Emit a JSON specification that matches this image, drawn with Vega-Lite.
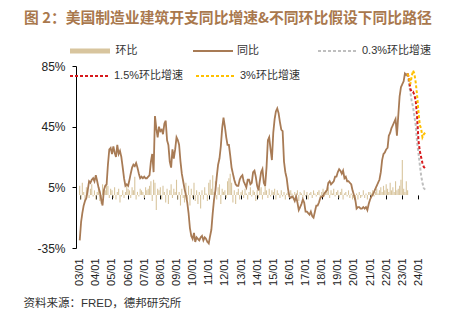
{
  "$schema": "https://vega.github.io/schema/vega-lite/v6.json",
  "padding": {"left": 23, "top": 10, "right": 0, "bottom": 0},
  "background": "white",
  "config": {"view": {"stroke": null}, "font": "Liberation Sans, Noto Sans CJK SC", "legend": {"orient": "none", "direction": "horizontal", "padding": 0, "symbolType": "stroke", "symbolSize": 1600, "symbolOpacity": 1, "labelFontSize": 11, "labelFont": "Liberation Sans, Noto Sans CJK SC", "labelColor": "#333", "labelOffset": 3}},
  "title": {"text": "图 2：美国制造业建筑开支同比增速&不同环比假设下同比路径", "anchor": "start", "font": "Noto Sans CJK SC", "fontSize": 14.8, "fontWeight": "bold", "color": "#A9784D", "offset": 3, "dx": 1},
  "width": 412,
  "height": 182,
  "resolve": {"axis": {"x": "independent"}},
  "datasets": {
    "m": [
      {"d":"2003/01/01","yoy":-30,"mom":6},{"d":"2003/02/01","yoy":-18,"mom":-3},{"d":"2003/03/01","yoy":-12,"mom":8},{"d":"2003/04/01","yoy":-7,"mom":2},{"d":"2003/05/01","yoy":-4,"mom":-4},{"d":"2003/06/01","yoy":-2,"mom":5},{"d":"2003/07/01","yoy":3,"mom":3},{"d":"2003/08/01","yoy":9,"mom":-2},{"d":"2003/09/01","yoy":8,"mom":4},{"d":"2003/10/01","yoy":10,"mom":7},{"d":"2003/11/01","yoy":11,"mom":-1},{"d":"2003/12/01","yoy":9,"mom":3},
      {"d":"2004/01/01","yoy":13,"mom":-3},{"d":"2004/02/01","yoy":9,"mom":2},{"d":"2004/03/01","yoy":5,"mom":5},{"d":"2004/04/01","yoy":2,"mom":-4},{"d":"2004/05/01","yoy":-3,"mom":-6},{"d":"2004/06/01","yoy":-7,"mom":7},{"d":"2004/07/01","yoy":3,"mom":4},{"d":"2004/08/01","yoy":6,"mom":3},{"d":"2004/09/01","yoy":7,"mom":9},{"d":"2004/10/01","yoy":20,"mom":6},{"d":"2004/11/01","yoy":30,"mom":-2},{"d":"2004/12/01","yoy":31,"mom":4},
      {"d":"2005/01/01","yoy":27,"mom":3},{"d":"2005/02/01","yoy":32,"mom":-2},{"d":"2005/03/01","yoy":28,"mom":5},{"d":"2005/04/01","yoy":25,"mom":-3},{"d":"2005/05/01","yoy":33,"mom":2},{"d":"2005/06/01","yoy":27,"mom":4},{"d":"2005/07/01","yoy":29,"mom":-5},{"d":"2005/08/01","yoy":25,"mom":-1},{"d":"2005/09/01","yoy":18,"mom":3},{"d":"2005/10/01","yoy":11,"mom":-2},{"d":"2005/11/01","yoy":6,"mom":2},{"d":"2005/12/01","yoy":7,"mom":6},
      {"d":"2006/01/01","yoy":6,"mom":4},{"d":"2006/02/01","yoy":10,"mom":3},{"d":"2006/03/01","yoy":14,"mom":-2},{"d":"2006/04/01","yoy":18,"mom":5},{"d":"2006/05/01","yoy":20,"mom":3},{"d":"2006/06/01","yoy":19,"mom":12},{"d":"2006/07/01","yoy":21,"mom":-3},{"d":"2006/08/01","yoy":18,"mom":2},{"d":"2006/09/01","yoy":14,"mom":-1},{"d":"2006/10/01","yoy":11,"mom":4},{"d":"2006/11/01","yoy":12,"mom":3},{"d":"2006/12/01","yoy":11,"mom":2},
      {"d":"2007/01/01","yoy":12,"mom":-2},{"d":"2007/02/01","yoy":11,"mom":5},{"d":"2007/03/01","yoy":11,"mom":3},{"d":"2007/04/01","yoy":12,"mom":4},{"d":"2007/05/01","yoy":13,"mom":6},{"d":"2007/06/01","yoy":22,"mom":9},{"d":"2007/07/01","yoy":27,"mom":-4},{"d":"2007/08/01","yoy":15,"mom":10},{"d":"2007/09/01","yoy":52,"mom":8},{"d":"2007/10/01","yoy":44,"mom":-10},{"d":"2007/11/01","yoy":38,"mom":4},{"d":"2007/12/01","yoy":45,"mom":3},
      {"d":"2008/01/01","yoy":42,"mom":5},{"d":"2008/02/01","yoy":43,"mom":-3},{"d":"2008/03/01","yoy":40,"mom":6},{"d":"2008/04/01","yoy":47,"mom":2},{"d":"2008/05/01","yoy":49,"mom":-5},{"d":"2008/06/01","yoy":36,"mom":4},{"d":"2008/07/01","yoy":33,"mom":-6},{"d":"2008/08/01","yoy":22,"mom":3},{"d":"2008/09/01","yoy":18,"mom":7},{"d":"2008/10/01","yoy":30,"mom":-2},{"d":"2008/11/01","yoy":24,"mom":4},{"d":"2008/12/01","yoy":30,"mom":2},
      {"d":"2009/01/01","yoy":38,"mom":10},{"d":"2009/02/01","yoy":36,"mom":-3},{"d":"2009/03/01","yoy":33,"mom":2},{"d":"2009/04/01","yoy":22,"mom":-7},{"d":"2009/05/01","yoy":14,"mom":4},{"d":"2009/06/01","yoy":9,"mom":-2},{"d":"2009/07/01","yoy":4,"mom":-5},{"d":"2009/08/01","yoy":0,"mom":8},{"d":"2009/09/01","yoy":-5,"mom":-3},{"d":"2009/10/01","yoy":-12,"mom":6},{"d":"2009/11/01","yoy":-22,"mom":-7},{"d":"2009/12/01","yoy":-27,"mom":4},
      {"d":"2010/01/01","yoy":-29,"mom":-2},{"d":"2010/02/01","yoy":-25,"mom":8},{"d":"2010/03/01","yoy":-31,"mom":-4},{"d":"2010/04/01","yoy":-28,"mom":3},{"d":"2010/05/01","yoy":-29,"mom":-6},{"d":"2010/06/01","yoy":-30,"mom":2},{"d":"2010/07/01","yoy":-28,"mom":-9},{"d":"2010/08/01","yoy":-27,"mom":3},{"d":"2010/09/01","yoy":-30,"mom":-3},{"d":"2010/10/01","yoy":-28,"mom":5},{"d":"2010/11/01","yoy":-29,"mom":1},{"d":"2010/12/01","yoy":-31,"mom":-4},
      {"d":"2011/01/01","yoy":-32,"mom":8},{"d":"2011/02/01","yoy":-27,"mom":10},{"d":"2011/03/01","yoy":-23,"mom":4},{"d":"2011/04/01","yoy":-12,"mom":13},{"d":"2011/05/01","yoy":-3,"mom":2},{"d":"2011/06/01","yoy":3,"mom":9},{"d":"2011/07/01","yoy":12,"mom":-3},{"d":"2011/08/01","yoy":20,"mom":5},{"d":"2011/09/01","yoy":24,"mom":7},{"d":"2011/10/01","yoy":32,"mom":-6},{"d":"2011/11/01","yoy":44,"mom":4},{"d":"2011/12/01","yoy":51,"mom":2},
      {"d":"2012/01/01","yoy":45,"mom":3},{"d":"2012/02/01","yoy":38,"mom":-2},{"d":"2012/03/01","yoy":33,"mom":9},{"d":"2012/04/01","yoy":33,"mom":11},{"d":"2012/05/01","yoy":26,"mom":14},{"d":"2012/06/01","yoy":18,"mom":8},{"d":"2012/07/01","yoy":14,"mom":-5},{"d":"2012/08/01","yoy":10,"mom":3},{"d":"2012/09/01","yoy":7,"mom":-6},{"d":"2012/10/01","yoy":6,"mom":2},{"d":"2012/11/01","yoy":6,"mom":4},{"d":"2012/12/01","yoy":10,"mom":-3},
      {"d":"2013/01/01","yoy":12,"mom":2},{"d":"2013/02/01","yoy":13,"mom":3},{"d":"2013/03/01","yoy":9,"mom":-2},{"d":"2013/04/01","yoy":7,"mom":4},{"d":"2013/05/01","yoy":5,"mom":1},{"d":"2013/06/01","yoy":10,"mom":-3},{"d":"2013/07/01","yoy":10,"mom":2},{"d":"2013/08/01","yoy":7,"mom":5},{"d":"2013/09/01","yoy":8,"mom":-1},{"d":"2013/10/01","yoy":15,"mom":3},{"d":"2013/11/01","yoy":16,"mom":2},{"d":"2013/12/01","yoy":12,"mom":-4},
      {"d":"2014/01/01","yoy":6,"mom":3},{"d":"2014/02/01","yoy":3,"mom":-2},{"d":"2014/03/01","yoy":9,"mom":4},{"d":"2014/04/01","yoy":15,"mom":5},{"d":"2014/05/01","yoy":17,"mom":-3},{"d":"2014/06/01","yoy":8,"mom":2},{"d":"2014/07/01","yoy":6,"mom":6},{"d":"2014/08/01","yoy":18,"mom":3},{"d":"2014/09/01","yoy":36,"mom":-2},{"d":"2014/10/01","yoy":38,"mom":4},{"d":"2014/11/01","yoy":30,"mom":-1},{"d":"2014/12/01","yoy":23,"mom":3},
      {"d":"2015/01/01","yoy":41,"mom":2},{"d":"2015/02/01","yoy":50,"mom":4},{"d":"2015/03/01","yoy":55,"mom":-3},{"d":"2015/04/01","yoy":57,"mom":3},{"d":"2015/05/01","yoy":54,"mom":1},{"d":"2015/06/01","yoy":48,"mom":-2},{"d":"2015/07/01","yoy":43,"mom":3},{"d":"2015/08/01","yoy":42,"mom":-1},{"d":"2015/09/01","yoy":22,"mom":2},{"d":"2015/10/01","yoy":15,"mom":-3},{"d":"2015/11/01","yoy":11,"mom":1},{"d":"2015/12/01","yoy":4,"mom":2},
      {"d":"2016/01/01","yoy":-1,"mom":-2},{"d":"2016/02/01","yoy":-2,"mom":3},{"d":"2016/03/01","yoy":-1,"mom":1},{"d":"2016/04/01","yoy":-2,"mom":-3},{"d":"2016/05/01","yoy":-4,"mom":2},{"d":"2016/06/01","yoy":-1,"mom":-1},{"d":"2016/07/01","yoy":-5,"mom":3},{"d":"2016/08/01","yoy":-10,"mom":-4},{"d":"2016/09/01","yoy":-8,"mom":2},{"d":"2016/10/01","yoy":-6,"mom":1},{"d":"2016/11/01","yoy":-3,"mom":-2},{"d":"2016/12/01","yoy":-5,"mom":3},
      {"d":"2017/01/01","yoy":-11,"mom":-1},{"d":"2017/02/01","yoy":-11,"mom":2},{"d":"2017/03/01","yoy":-12,"mom":-3},{"d":"2017/04/01","yoy":-13,"mom":1},{"d":"2017/05/01","yoy":-11,"mom":2},{"d":"2017/06/01","yoy":-14,"mom":-2},{"d":"2017/07/01","yoy":-15,"mom":3},{"d":"2017/08/01","yoy":-11,"mom":1},{"d":"2017/09/01","yoy":-7,"mom":-1},{"d":"2017/10/01","yoy":-7,"mom":2},{"d":"2017/11/01","yoy":-5,"mom":3},{"d":"2017/12/01","yoy":-2,"mom":-2},
      {"d":"2018/01/01","yoy":-1,"mom":2},{"d":"2018/02/01","yoy":-1,"mom":4},{"d":"2018/03/01","yoy":1,"mom":-1},{"d":"2018/04/01","yoy":2,"mom":3},{"d":"2018/05/01","yoy":3,"mom":2},{"d":"2018/06/01","yoy":8,"mom":5},{"d":"2018/07/01","yoy":9,"mom":-2},{"d":"2018/08/01","yoy":7,"mom":3},{"d":"2018/09/01","yoy":8,"mom":1},{"d":"2018/10/01","yoy":9,"mom":4},{"d":"2018/11/01","yoy":12,"mom":-1},{"d":"2018/12/01","yoy":12,"mom":2},
      {"d":"2019/01/01","yoy":15,"mom":3},{"d":"2019/02/01","yoy":17,"mom":-2},{"d":"2019/03/01","yoy":16,"mom":2},{"d":"2019/04/01","yoy":14,"mom":4},{"d":"2019/05/01","yoy":16,"mom":-3},{"d":"2019/06/01","yoy":11,"mom":1},{"d":"2019/07/01","yoy":12,"mom":2},{"d":"2019/08/01","yoy":9,"mom":-1},{"d":"2019/09/01","yoy":9,"mom":3},{"d":"2019/10/01","yoy":8,"mom":-2},{"d":"2019/11/01","yoy":7,"mom":1},{"d":"2019/12/01","yoy":3,"mom":-3},
      {"d":"2020/01/01","yoy":0,"mom":-2},{"d":"2020/02/01","yoy":-3,"mom":-4},{"d":"2020/03/01","yoy":-9,"mom":1},{"d":"2020/04/01","yoy":-8,"mom":-3},{"d":"2020/05/01","yoy":-8,"mom":2},{"d":"2020/06/01","yoy":-9,"mom":-2},{"d":"2020/07/01","yoy":-9,"mom":-1},{"d":"2020/08/01","yoy":-8,"mom":3},{"d":"2020/09/01","yoy":-9,"mom":-2},{"d":"2020/10/01","yoy":-8,"mom":1},{"d":"2020/11/01","yoy":-10,"mom":-3},{"d":"2020/12/01","yoy":-6,"mom":2},
      {"d":"2021/01/01","yoy":-3,"mom":2},{"d":"2021/02/01","yoy":-1,"mom":1},{"d":"2021/03/01","yoy":0,"mom":3},{"d":"2021/04/01","yoy":2,"mom":-1},{"d":"2021/05/01","yoy":4,"mom":2},{"d":"2021/06/01","yoy":6,"mom":4},{"d":"2021/07/01","yoy":8,"mom":1},{"d":"2021/08/01","yoy":10,"mom":3},{"d":"2021/09/01","yoy":15,"mom":5},{"d":"2021/10/01","yoy":23,"mom":2},{"d":"2021/11/01","yoy":27,"mom":6},{"d":"2021/12/01","yoy":28,"mom":3},
      {"d":"2022/01/01","yoy":30,"mom":7},{"d":"2022/02/01","yoy":31,"mom":4},{"d":"2022/03/01","yoy":39,"mom":2},{"d":"2022/04/01","yoy":41,"mom":8},{"d":"2022/05/01","yoy":44,"mom":3},{"d":"2022/06/01","yoy":46,"mom":5},{"d":"2022/07/01","yoy":48,"mom":2},{"d":"2022/08/01","yoy":50,"mom":9},{"d":"2022/09/01","yoy":39,"mom":3},{"d":"2022/10/01","yoy":52,"mom":4},{"d":"2022/11/01","yoy":65,"mom":6},{"d":"2022/12/01","yoy":71,"mom":10},
      {"d":"2023/01/01","yoy":73,"mom":23},{"d":"2023/02/01","yoy":75,"mom":4},{"d":"2023/03/01","yoy":80,"mom":2},{"d":"2023/04/01","yoy":79,"mom":9},{"d":"2023/05/01","yoy":80,"mom":3}
    ],
    "p": [
      {"d":"2023/05/01","s":"0.3%环比增速","v":80},{"d":"2023/06/01","s":"0.3%环比增速","v":73},{"d":"2023/07/01","s":"0.3%环比增速","v":68},{"d":"2023/08/01","s":"0.3%环比增速","v":62},{"d":"2023/09/01","s":"0.3%环比增速","v":58},{"d":"2023/10/01","s":"0.3%环比增速","v":52},{"d":"2023/11/01","s":"0.3%环比增速","v":46},{"d":"2023/12/01","s":"0.3%环比增速","v":35},{"d":"2024/01/01","s":"0.3%环比增速","v":28},{"d":"2024/02/01","s":"0.3%环比增速","v":20},{"d":"2024/03/01","s":"0.3%环比增速","v":13},{"d":"2024/04/01","s":"0.3%环比增速","v":8},{"d":"2024/05/01","s":"0.3%环比增速","v":4.5},{"d":"2024/06/01","s":"0.3%环比增速","v":3.5},
      {"d":"2023/05/01","s":"1.5%环比增速","v":80},{"d":"2023/06/01","s":"1.5%环比增速","v":77},{"d":"2023/07/01","s":"1.5%环比增速","v":70},{"d":"2023/08/01","s":"1.5%环比增速","v":68},{"d":"2023/09/01","s":"1.5%环比增速","v":68},{"d":"2023/10/01","s":"1.5%环比增速","v":66},{"d":"2023/11/01","s":"1.5%环比增速","v":62},{"d":"2023/12/01","s":"1.5%环比增速","v":52},{"d":"2024/01/01","s":"1.5%环比增速","v":36},{"d":"2024/02/01","s":"1.5%环比增速","v":29},{"d":"2024/03/01","s":"1.5%环比增速","v":25},{"d":"2024/04/01","s":"1.5%环比增速","v":21},{"d":"2024/05/01","s":"1.5%环比增速","v":18.5},{"d":"2024/06/01","s":"1.5%环比增速","v":17.5},
      {"d":"2023/05/01","s":"3%环比增速","v":80},{"d":"2023/06/01","s":"3%环比增速","v":77},{"d":"2023/07/01","s":"3%环比增速","v":73},{"d":"2023/08/01","s":"3%环比增速","v":78},{"d":"2023/09/01","s":"3%环比增速","v":82},{"d":"2023/10/01","s":"3%环比增速","v":80},{"d":"2023/11/01","s":"3%环比增速","v":74},{"d":"2023/12/01","s":"3%环比增速","v":66},{"d":"2024/01/01","s":"3%环比增速","v":55},{"d":"2024/02/01","s":"3%环比增速","v":46},{"d":"2024/03/01","s":"3%环比增速","v":44},{"d":"2024/04/01","s":"3%环比增速","v":38},{"d":"2024/05/01","s":"3%环比增速","v":40},{"d":"2024/06/01","s":"3%环比增速","v":41}
    ]
  },
  "layer": [
    {
      "data": {"name": "m"},
      "mark": {"type": "bar", "size": 1.1},
      "encoding": {
        "x": {"field": "d", "type": "temporal", "scale": {"domain": [{"year": 1999, "month": 10, "date": 18}, {"year": 2024, "month": 9, "date": 19}]},
          "axis": {"format": "%y/%m", "values": [{"year": 2003, "month": 1, "date": 1}, {"year": 2004, "month": 1, "date": 1}, {"year": 2005, "month": 1, "date": 1}, {"year": 2006, "month": 1, "date": 1}, {"year": 2007, "month": 1, "date": 1}, {"year": 2008, "month": 1, "date": 1}, {"year": 2009, "month": 1, "date": 1}, {"year": 2010, "month": 1, "date": 1}, {"year": 2011, "month": 1, "date": 1}, {"year": 2012, "month": 1, "date": 1}, {"year": 2013, "month": 1, "date": 1}, {"year": 2014, "month": 1, "date": 1}, {"year": 2015, "month": 1, "date": 1}, {"year": 2016, "month": 1, "date": 1}, {"year": 2017, "month": 1, "date": 1}, {"year": 2018, "month": 1, "date": 1}, {"year": 2019, "month": 1, "date": 1}, {"year": 2020, "month": 1, "date": 1}, {"year": 2021, "month": 1, "date": 1}, {"year": 2022, "month": 1, "date": 1}, {"year": 2023, "month": 1, "date": 1}, {"year": 2024, "month": 1, "date": 1}],
            "labelAngle": 270, "offset": -53.1, "domain": false, "tickSize": 4, "labelPadding": 59, "labelFontSize": 11, "labelColor": "#222", "labelFont": "Liberation Sans", "tickColor": "#000", "grid": false, "title": null, "labelOverlap": false, "labelFlush": false}},
        "y": {"field": "mom", "type": "quantitative", "scale": {"domain": [-35, 85], "nice": false, "zero": false},
          "axis": {"values": [-35, -15, 5, 25, 45, 65, 85], "labelExpr": "datum.value + '%'", "title": null, "grid": false, "offset": -53, "tickSize": 4, "labelPadding": 7, "labelFontSize": 12, "labelColor": "#222", "labelFont": "Liberation Sans", "domainColor": "#000", "tickColor": "#000"}},
        "fill": {"datum": "环比", "type": "nominal", "title": null, "scale": {"domain": ["环比"], "range": ["#D8C59E"]},
          "legend": {"title": null, "legendX": 44.5, "legendY": -37.5, "symbolStrokeWidth": 5, "symbolStrokeColor": "#D8C59E"}}
      }
    },
    {
      "mark": {"type": "rule", "color": "#000", "strokeWidth": 1},
      "encoding": {
        "x": {"datum": {"year": 2003, "month": 1, "date": 1}, "type": "temporal", "axis": null},
        "x2": {"datum": {"year": 2024, "month": 6, "date": 1}},
        "y": {"datum": 0, "type": "quantitative"}
      }
    },
    {
      "mark": {"type": "rule", "color": "#B88A5E", "strokeWidth": 1.4, "clip": false, "yOffset": -36},
      "encoding": {
        "x": {"datum": {"year": 1999, "month": 10, "date": 19}, "type": "temporal", "axis": null},
        "x2": {"datum": {"year": 2024, "month": 9, "date": 18}},
        "y": {"datum": 85, "type": "quantitative"}
      }
    },
    {
      "mark": {"type": "rule", "color": "#B88A5E", "strokeWidth": 1.4, "clip": false, "yOffset": 44},
      "encoding": {
        "x": {"datum": {"year": 1999, "month": 10, "date": 19}, "type": "temporal", "axis": {"orient": "bottom", "offset": 44, "domain": false, "ticks": false, "labels": false, "grid": false, "title": "资料来源：FRED，德邦研究所", "titleAnchor": "start", "titlePadding": 5, "titleFont": "Liberation Sans, Noto Sans CJK SC", "titleFontSize": 11.5, "titleFontWeight": "normal", "titleColor": "#333"}},
        "x2": {"datum": {"year": 2024, "month": 9, "date": 18}},
        "y": {"datum": -35, "type": "quantitative"}
      }
    },
    {
      "data": {"name": "m"},
      "mark": {"type": "line", "strokeWidth": 1.8},
      "encoding": {
        "x": {"field": "d", "type": "temporal", "axis": null},
        "y": {"field": "yoy", "type": "quantitative"},
        "stroke": {"datum": "同比", "type": "nominal", "title": null, "scale": {"domain": ["同比", "0.3%环比增速"], "range": ["#A87B55", "#BFBFBF"]},
          "legend": {"title": null, "legendX": 169, "legendY": -36, "columnPadding": 55, "symbolStrokeWidth": 2}},
        "strokeDash": {"datum": "同比", "type": "nominal", "title": null, "scale": {"domain": ["同比", "0.3%环比增速"], "range": [[1, 0], [3, 2]]},
          "legend": {"title": null, "legendX": 169, "legendY": -36, "columnPadding": 55, "symbolStrokeWidth": 2}}
      }
    },
    {
      "data": {"name": "p"},
      "transform": [{"filter": "datum.s == '0.3%环比增速'"}],
      "mark": {"type": "line", "strokeWidth": 2},
      "encoding": {
        "x": {"field": "d", "type": "temporal", "axis": null},
        "y": {"field": "v", "type": "quantitative"},
        "stroke": {"field": "s", "type": "nominal", "title": null},
        "strokeDash": {"field": "s", "type": "nominal", "title": null}
      }
    },
    {
      "data": {"name": "p"},
      "transform": [{"filter": "datum.s != '0.3%环比增速'"}],
      "mark": {"type": "line", "strokeWidth": 2, "strokeDash": [3, 2]},
      "encoding": {
        "x": {"field": "d", "type": "temporal", "axis": null},
        "y": {"field": "v", "type": "quantitative"},
        "color": {"field": "s", "type": "nominal", "title": null, "scale": {"domain": ["1.5%环比增速", "3%环比增速"], "range": ["#D7191C", "#FFC000"]},
          "legend": {"title": null, "legendX": 46, "legendY": -11, "columnPadding": 8, "symbolStrokeWidth": 2, "symbolDash": [3, 2]}}
      }
    }
  ]
}
